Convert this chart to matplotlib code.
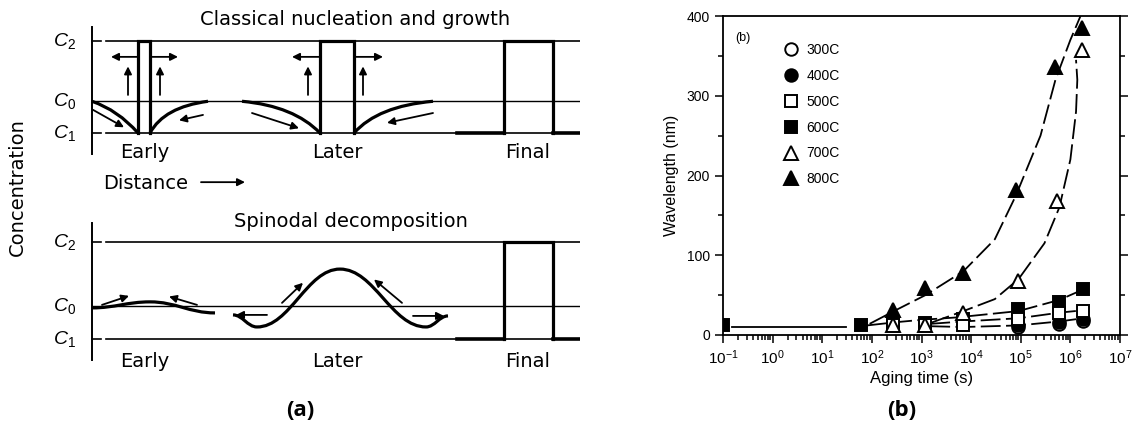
import matplotlib
matplotlib.use("Agg")
import matplotlib.pyplot as plt
from matplotlib.path import Path
from matplotlib.patches import PathPatch
from matplotlib.ticker import LogLocator, MultipleLocator, NullFormatter

plt.rcParams['font.family'] = ['Liberation Sans', 'DejaVu Sans']
plt.rcParams['mathtext.fontset'] = 'custom'
plt.rcParams['mathtext.rm'] = 'Liberation Sans'
plt.rcParams['mathtext.it'] = 'Liberation Sans:italic'

# ---------------- panel (b): wavelength vs aging time ----------------
labels_b = ["300C", "400C", "500C", "600C", "700C", "800C"]
t300 = [9e4, 6e5, 1.8e6]
w300 = [10, 14, 17]
t400 = [9e4, 6e5, 1.8e6]
w400 = [12, 16, 20]
t500 = [270, 1200, 7000, 9e4, 6e5, 1.8e6]
w500 = [12, 13, 13, 20, 27, 30]
t600 = [0.1, 60, 270, 1200, 7000, 9e4, 6e5, 1.8e6]
w600 = [13, 12, 14, 15, 20, 32, 42, 58]
t700 = [270, 1200, 7000, 9e4, 5.4e5, 1.7e6]
w700 = [12, 13, 27, 68, 168, 357]
t800 = [270, 1200, 6800, 8e4, 5e5, 1.7e6]
w800 = [31, 59, 78, 182, 336, 385]

# guide curves as drawn in the figure
fit800_t = [90, 300, 1200, 7000, 3e4, 8e4, 2.5e5, 5e5, 1e6, 1.6e6]
fit800_w = [14, 31, 50, 80, 120, 175, 250, 320, 370, 400]
fit700_t = [1500, 7000, 3e4, 9e4, 3e5, 6e5, 1e6, 1.3e6, 1.38e6, 1.3e6]
fit700_w = [15, 30, 45, 70, 115, 160, 220, 280, 320, 345]
fit600_t = [80, 300, 1000, 5000, 9e4, 6e5, 1.8e6]
fit600_w = [12, 16, 19, 22, 30, 44, 57]
fit500_t = [1500, 7000, 9e4, 6e5, 1.8e6]
fit500_w = [14, 17, 21, 28, 31]
fit400_t = [1500, 7000, 9e4, 6e5, 1.8e6]
fit400_w = [11, 10, 12, 17, 21]
flat_t = [0.15, 30]
flat_w = [10, 10]

# ---------------- panel (a): schematic concentration profiles ----------------
C1, C0, C2 = 0.0, 1.0, 2.9
level_vals = [C2, C0, C1]
level_names = [r'$C_2$', r'$C_0$', r'$C_1$']
x_axis, x_end = 92, 580
stage_names = ["Early", "Later", "Final"]
stage_x = [145, 337, 528]
boxes = [(138, 150), (320, 354), (504, 553)]
final_flat = [(457, 504), (553, 580)]
# depletion profiles: start, control, end
nuc_curves = [((92, C0), (118, 0.72), (138, C1)),
              ((150, C1), (164, 0.82), (208, C0)),
              ((242, C0), (294, 0.85), (320, C1)),
              ((354, C1), (378, 0.85), (433, C0))]
nuc_arrows = [((137, 2.40), (111, 2.40)), ((151, 2.40), (178, 2.40)),
              ((128, 1.20), (128, 2.10)), ((160, 1.20), (160, 2.10)),
              ((93, 0.73), (124, 0.18)), ((203, 0.57), (179, 0.40)),
              ((319, 2.40), (292, 2.40)), ((355, 2.40), (383, 2.40)),
              ((308, 1.20), (308, 2.10)), ((363, 1.20), (363, 2.10)),
              ((252, 0.63), (299, 0.15)), ((433, 0.63), (387, 0.32))]
early_wave = [(92, 0.93), (150, 1.11), (215, 0.78)]
later_wave = [(233, 0.72), (257, 0.36), (340, 2.09), (426, 0.36), (448, 0.69)]
spin_arrows = [((102, 1.02), (129, 1.29)), ((197, 1.02), (169, 1.27)),
               ((282, 1.08), (303, 1.68)), ((402, 1.08), (374, 1.78)),
               ((267, 0.72), (236, 0.72)), ((413, 0.69), (444, 0.69))]

fig = plt.figure(figsize=(11.34, 4.34), dpi=100)
W, H = 1134, 434
diag_font = ['DejaVu Sans']


def px_axes(top, bottom, left, right):
    return fig.add_axes([left / W, 1 - bottom / H, (right - left) / W, (bottom - top) / H])


def quad(ax, p0, c, p1, lw=2.3):
    path = Path([p0, c, p1], [Path.MOVETO, Path.CURVE3, Path.CURVE3])
    ax.add_patch(PathPatch(path, fill=False, lw=lw, color='black', capstyle='butt'))


def wave(ax, pts, lw=2.3):
    verts = [pts[0]]
    codes = [Path.MOVETO]
    for (xa, ya), (xb, yb) in zip(pts[:-1], pts[1:]):
        dx = xb - xa
        verts += [(xa + 0.4 * dx, ya), (xb - 0.4 * dx, yb), (xb, yb)]
        codes += [Path.CURVE4] * 3
    ax.add_patch(PathPatch(Path(verts, codes), fill=False, lw=lw, color='black', capstyle='butt'))


def arrow(ax, a, b):
    ax.annotate("", xy=b, xytext=a,
                arrowprops=dict(arrowstyle='-|>', color='black', lw=1.3,
                                mutation_scale=11, shrinkA=0, shrinkB=0))


def frame(ax, px_per_unit, c1_px, top_px, bot_px, ax_top, ax_bot):
    ax.set_xlim(0, 580)
    ax.set_ylim((c1_px - bot_px) / px_per_unit, (c1_px - top_px) / px_per_unit)
    ax.axis('off')
    ax.plot([x_axis, x_axis], [ax_bot, ax_top], color='black', lw=1.4)
    for v, name in zip(level_vals, level_names):
        if v == C0:
            ax.plot([x_axis, x_end], [v, v], color='black', lw=1.0)
        else:
            ax.plot([x_axis, x_axis + 9], [v, v], color='black', lw=1.2)
            ax.plot([x_axis + 14, x_end], [v, v], color='black', lw=1.2)
        ax.text(x_axis - 16, v, name, ha='right', va='center', fontsize=14)


# top: classical nucleation and growth
ax_t = px_axes(0, 175, 0, 580)
frame(ax_t, 31.72, 133, 0, 175, 3.34, -0.66)
ax_t.text(355, 3.58, "Classical nucleation and growth", ha='center', va='center',
          fontsize=14, family=diag_font)
for x0, x1 in boxes:
    ax_t.plot([x0, x0, x1, x1], [C1, C2, C2, C1], color='black', lw=2.3, solid_joinstyle='miter')
for x0, x1 in final_flat:
    ax_t.plot([x0, x1], [C1, C1], color='black', lw=2.6)
for p0, c, p1 in nuc_curves:
    quad(ax_t, p0, c, p1)
for a, b in nuc_arrows:
    arrow(ax_t, a, b)
for name, xs in zip(stage_names, stage_x):
    ax_t.text(xs, -0.63, name, ha='center', va='center', fontsize=14, family=diag_font)
ax_t.text(103, -1.58, "Distance", ha='left', va='center', fontsize=14, family=diag_font)
ax_t.annotate("", xy=(245, -1.55), xytext=(201, -1.55),
              arrowprops=dict(arrowstyle='-|>', color='black', lw=1.3,
                              mutation_scale=11, shrinkA=0, shrinkB=0),
              annotation_clip=False)

# bottom: spinodal decomposition
ax_s = px_axes(200, 380, 0, 580)
frame(ax_s, 33.45, 339, 200, 380, 3.47, -0.63)
ax_s.text(351, 3.5, "Spinodal decomposition", ha='center', va='center',
          fontsize=14, family=diag_font)
x0, x1 = boxes[2]
ax_s.plot([x0, x0, x1, x1], [C1, C2, C2, C1], color='black', lw=2.3, solid_joinstyle='miter')
for xa, xb in final_flat:
    ax_s.plot([xa, xb], [C1, C1], color='black', lw=2.6)
wave(ax_s, early_wave)
wave(ax_s, later_wave)
for a, b in spin_arrows:
    arrow(ax_s, a, b)
for name, xs in zip(stage_names, stage_x):
    ax_s.text(xs, -0.68, name, ha='center', va='center', fontsize=14, family=diag_font)

fig.text(17 / W, 1 - 187 / H, "Concentration", rotation=90, ha='center', va='center',
         fontsize=14, family=diag_font)

# ---------------- panel (b) axes ----------------
ax = px_axes(16, 335, 723, 1120)
ax.set_xscale('log')

dash = (0, (11, 3))
ax.plot(flat_t, flat_w, color='black', lw=1.3)
for tt, ww in [(fit800_t, fit800_w), (fit700_t, fit700_w), (fit600_t, fit600_w),
               (fit500_t, fit500_w), (fit400_t, fit400_w)]:
    ax.plot(tt, ww, color='black', lw=1.3, linestyle=dash)

styles = [
    (t300, w300, 'o', 'white', 9, 4),
    (t400, w400, 'o', 'black', 9, 5),
    (t500, w500, 's', 'white', 9, 7),
    (t600, w600, 's', 'black', 9, 6),
    (t700, w700, '^', 'white', 10, 8),
    (t800, w800, '^', 'black', 10, 9),
]
for (tt, ww, m, fc, ms, z), lab in zip(styles, labels_b):
    ax.plot(tt, ww, linestyle='none', marker=m, markersize=ms, markerfacecolor=fc,
            markeredgecolor='black', markeredgewidth=1.4, zorder=z, label=lab)

ax.set_xlim(1e-1, 1e7)
ax.set_ylim(0, 400)
ax.xaxis.set_major_locator(LogLocator(base=10, numticks=20))
ax.xaxis.set_minor_locator(LogLocator(base=10, subs=range(2, 10), numticks=20))
ax.xaxis.set_minor_formatter(NullFormatter())
ax.yaxis.set_major_locator(MultipleLocator(100))
ax.yaxis.set_minor_locator(MultipleLocator(50))
ax.tick_params(which='both', direction='out', right=True, width=1.1)
ax.tick_params(axis='y', labelsize=10)
ax.tick_params(axis='x', labelsize=11)
ax.tick_params(which='major', length=6)
ax.tick_params(which='minor', length=3.5)
for sp in ax.spines.values():
    sp.set_linewidth(1.3)
ax.set_xlabel("Aging time (s)", fontsize=12, labelpad=3)
ax.set_ylabel("Wavelength (nm)", fontsize=11.5, labelpad=5)
ax.text(0.03, 0.93, "(b)", transform=ax.transAxes, fontsize=9, ha='left', va='center')
ax.legend(loc='upper left', bbox_to_anchor=(0.13, 0.945), frameon=False, fontsize=10,
          handletextpad=0.6, labelspacing=0.85, handlelength=1.0, borderpad=0.2)

fig.text(300 / W, 1 - 411 / H, "(a)", ha='center', va='center', fontsize=16, fontweight='bold',
         family=['Open Sans', 'DejaVu Sans'])
fig.text(902 / W, 1 - 411 / H, "(b)", ha='center', va='center', fontsize=16, fontweight='bold',
         family=['Open Sans', 'DejaVu Sans'])

fig.savefig("out.png", dpi=100)
